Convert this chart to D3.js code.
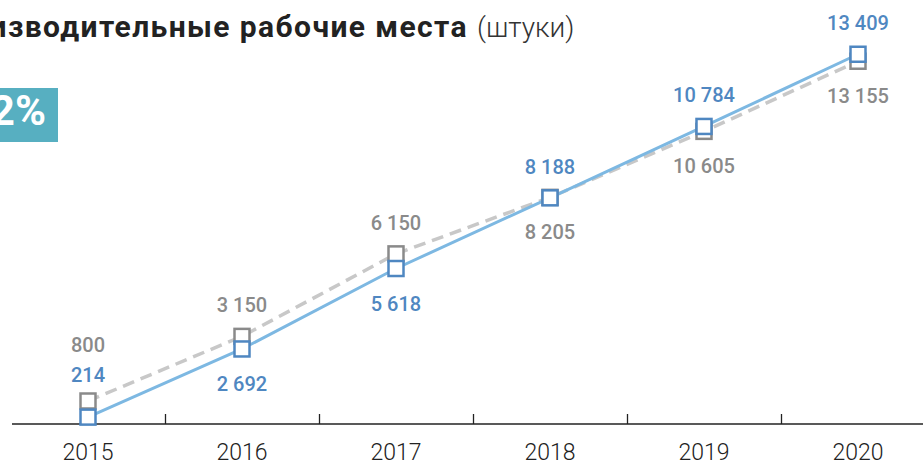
<!DOCTYPE html>
<html>
<head>
<meta charset="utf-8">
<script src="https://cdn.jsdelivr.net/npm/d3@7"></script>
<style>
  body { margin: 0; background: #fff; }
  svg { display: block; font-family: Roboto, "Noto Sans", sans-serif; }
</style>
</head>
<body>
<script>
var years = ["2015", "2016", "2017", "2018", "2019", "2020"];
var actual = [214, 2692, 5618, 8188, 10784, 13409];   // blue, solid
var plan = [800, 3150, 6150, 8205, 10605, 13155];     // gray, dashed
// label placement: -1 above the marker, +1 below
var actualSide = [-1, 1, 1, -1, -1, -1];
var planSide = [-1, -1, -1, 1, 1, 1];

var W = 923, H = 466;

var svg = d3.select("body")
  .append("svg")
  .attr("width", W)
  .attr("height", H);

var x = d3.scaleBand().domain(years).range([11, 935]).padding(0);
var y = d3.scaleLinear().domain([0, 14000]).range([423, 38]);
var cx = function(d, i) { return x(years[i]) + x.bandwidth() / 2; };

var fmt = function(v) { return d3.format(",")(v).replace(/,/g, " "); };

// title (cut off on the left like the source)
svg.append("text")
  .attr("x", 468).attr("y", 37)
  .attr("text-anchor", "end")
  .attr("font-size", 30).attr("font-weight", 700)
  .attr("letter-spacing", 1.4)
  .attr("fill", "#222")
  .text("Высокопроизводительные рабочие места");
svg.append("text")
  .attr("x", 477).attr("y", 37)
  .attr("font-size", 28).attr("font-weight", 300)
  .attr("fill", "#333")
  .text("(штуки)");

// teal badge
svg.append("rect")
  .attr("x", 0).attr("y", 88).attr("width", 58).attr("height", 54)
  .attr("fill", "#57afc1");
svg.append("text")
  .attr("x", 46).attr("y", 125)
  .attr("text-anchor", "end")
  .attr("font-size", 42).attr("font-weight", 700)
  .attr("fill", "#fff")
  .text("2%");

// axis
svg.append("line")
  .attr("x1", 12).attr("x2", W)
  .attr("y1", 424).attr("y2", 424)
  .attr("stroke", "#222").attr("stroke-width", 1.3);

svg.selectAll(".tick")
  .data(years.slice(1))
  .enter()
  .append("line")
  .attr("class", "tick")
  .attr("x1", function(d) { return Math.round(x(d)) + 0.5; })
  .attr("x2", function(d) { return Math.round(x(d)) + 0.5; })
  .attr("y1", 414).attr("y2", 424)
  .attr("stroke", "#222").attr("stroke-width", 1.3);

svg.selectAll(".year")
  .data(years)
  .enter()
  .append("text")
  .attr("class", "year")
  .attr("x", function(d) { return x(d) + x.bandwidth() / 2; })
  .attr("y", 460)
  .attr("text-anchor", "middle")
  .attr("font-size", 23).attr("font-weight", 300)
  .attr("fill", "#222")
  .text(function(d) { return d; });

var line = d3.line()
  .x(cx)
  .y(function(d) { return y(d); });

svg.append("path")
  .datum(plan)
  .attr("d", line)
  .attr("fill", "none")
  .attr("stroke", "#c8c8c8")
  .attr("stroke-width", 3.5)
  .attr("stroke-dasharray", "12,7");

svg.append("path")
  .datum(actual)
  .attr("d", line)
  .attr("fill", "none")
  .attr("stroke", "#7db8e2")
  .attr("stroke-width", 3);

function markers(data, color, cls) {
  svg.selectAll("." + cls)
    .data(data)
    .enter()
    .append("rect")
    .attr("class", cls)
    .attr("x", function(d, i) { return cx(d, i) - 7.5; })
    .attr("y", function(d) { return y(d) - 7.5; })
    .attr("width", 15).attr("height", 15)
    .attr("fill", "#fff")
    .attr("stroke", color)
    .attr("stroke-width", 2.5);
}
markers(plan, "#8a8a8a", "pm");
markers(actual, "#4f87c1", "am");

// labels go above/below their marker; where both series sit above the
// same point the labels stack over the upper marker
function labelY(d, i, side, other, otherSide) {
  var base = y(d);
  if (side[i] < 0) {
    var o = y(other[i]);
    if (otherSide[i] < 0 && o < base) return o - 19;
    if (otherSide[i] < 0 && o > base) return base - 19 - 30;
    return base - 24;
  }
  return base + 42;
}

function labels(data, side, other, otherSide, color, cls) {
  svg.selectAll("." + cls)
    .data(data)
    .enter()
    .append("text")
    .attr("class", cls)
    .attr("x", cx)
    .attr("y", function(d, i) { return labelY(d, i, side, other, otherSide); })
    .attr("text-anchor", "middle")
    .attr("font-size", 20).attr("font-weight", 500)
    .attr("fill", color)
    .text(function(d) { return fmt(d); });
}
labels(plan, planSide, actual, actualSide, "#8a8a8a", "pl");
labels(actual, actualSide, plan, planSide, "#4f87c1", "al");
</script>
</body>
</html>
